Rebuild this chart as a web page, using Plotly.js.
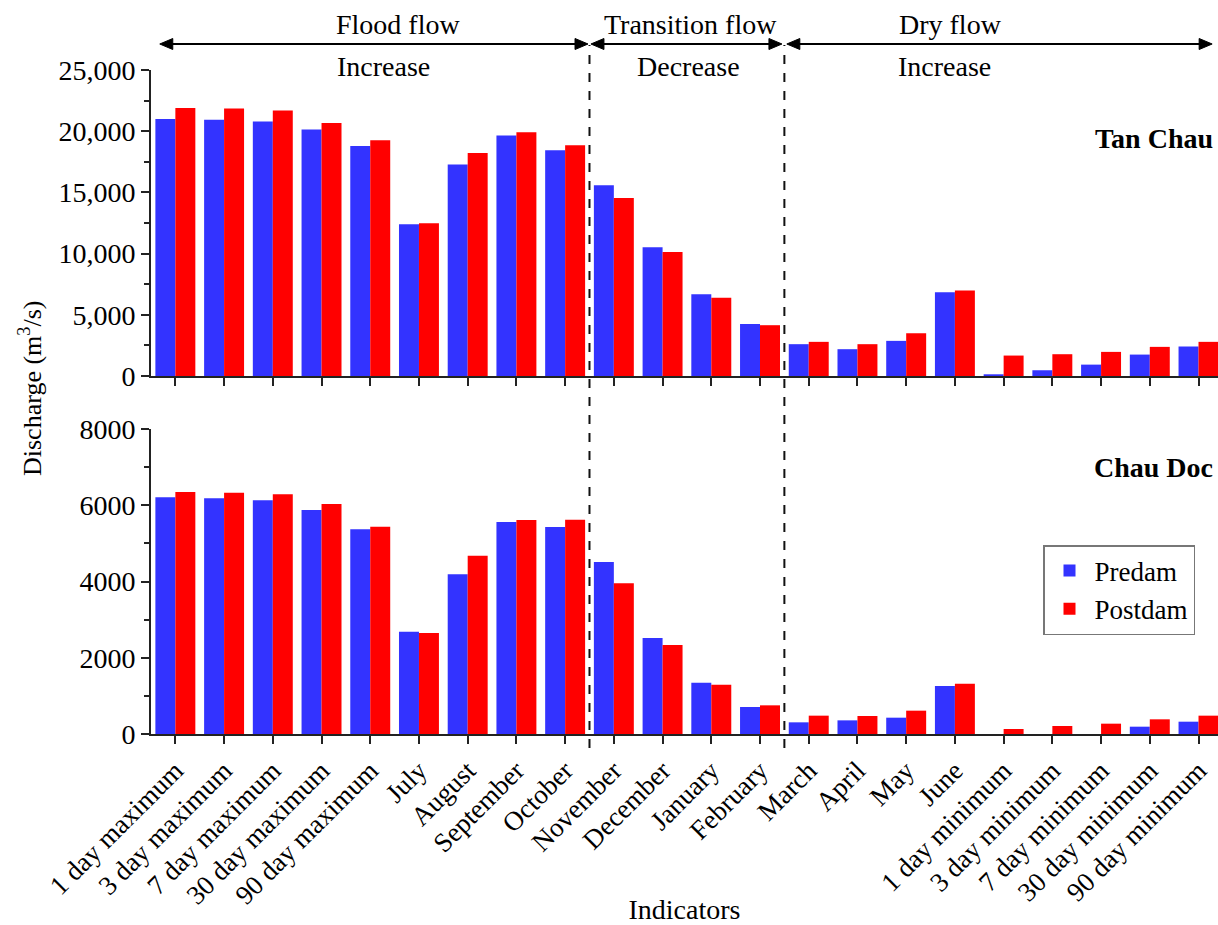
<!DOCTYPE html>
<html>
<head>
<meta charset="utf-8">
<script src="https://cdn.plot.ly/plotly-3.0.1.min.js"></script>
<style>html,body{margin:0;padding:0;background:#fff;}#chart{width:1218px;height:925px;}</style>
</head>
<body>
<div id="chart"></div>
<script>
const categories = ["1 day maximum","3 day maximum","7 day maximum","30 day maximum","90 day maximum","July","August","September","October","November","December","January","February","March","April","May","June","1 day minimum","3 day minimum","7 day minimum","30 day minimum","90 day minimum"];
const tanChauPredam  = [21000,20930,20790,20140,18800,12400,17270,19640,18440,15580,10520,6670,4240,2600,2190,2870,6840,140,470,930,1750,2410];
const tanChauPostdam = [21900,21860,21690,20680,19260,12480,18220,19920,18850,14540,10140,6390,4150,2790,2600,3500,6980,1670,1780,1970,2380,2790];
const chauDocPredam  = [6208,6181,6129,5875,5368,2684,4188,5561,5429,4511,2518,1346,708,306,358,428,1259,0,0,0,192,323];
const chauDocPostdam = [6347,6330,6286,6033,5438,2649,4678,5613,5622,3952,2334,1294,752,481,472,612,1320,131,210,271,385,481];
const seriesNames = ["Predam","Postdam"];
const stations = ["Tan Chau","Chau Doc"];
const periods = ["Flood flow","Transition flow","Dry flow"];
const trends = ["Increase","Decrease","Increase"];

const BLUE = "#3333FF", RED = "#FF0000";
const FONT = "Liberation Serif, Times New Roman, serif";

const traces = [
  {type:"bar", x:categories, y:tanChauPredam, name:seriesNames[0], xaxis:"x2", yaxis:"y2", marker:{color:BLUE}, showlegend:false},
  {type:"bar", x:categories, y:tanChauPostdam, name:seriesNames[1], xaxis:"x2", yaxis:"y2", marker:{color:RED}, showlegend:false},
  {type:"bar", x:categories, y:chauDocPredam, name:seriesNames[0], xaxis:"x", yaxis:"y", marker:{color:BLUE}},
  {type:"bar", x:categories, y:chauDocPostdam, name:seriesNames[1], xaxis:"x", yaxis:"y", marker:{color:RED}}
];

const axLine = {showline:true, linecolor:"#222", linewidth:2, ticks:"outside", ticklen:8, tickwidth:2, tickcolor:"#222", showgrid:false, zeroline:false};

// layout geometry
const top0 = 70, bot0 = 734, H = 925, L = 151, W = 1067;
function py(pix){ return (bot0 - pix)/(bot0 - top0); }
function px(pix){ return (pix - L)/W; }
const catPx = W/21.9; // pixels per category

const layout = {
  width:1218, height:925,
  margin:{l:L, r:0, t:top0, b:H-bot0},
  paper_bgcolor:"#fff", plot_bgcolor:"#fff",
  font:{family:FONT, size:26, color:"#000"},
  barmode:"group", bargap:0.18, bargroupgap:0,
  showlegend:true,
  legend:{x:px(1043), y:py(545), xanchor:"left", yanchor:"top", bgcolor:"#fff", bordercolor:"#777", borderwidth:1.5, font:{size:27, family:FONT}, tracegroupgap:0, itemwidth:40},
  xaxis:Object.assign({}, axLine, {anchor:"y", domain:[0,1], range:[-0.5,21.4], tickangle:-45, tickfont:{size:27, family:FONT},
    title:{text:"Indicators", font:{size:28, family:FONT}, standoff:6}}),
  xaxis2:Object.assign({}, axLine, {anchor:"y2", domain:[0,1], matches:"x", showticklabels:false}),
  yaxis:Object.assign({}, axLine, {anchor:"x", domain:[0, py(429)], range:[0,8000], dtick:2000, tickfont:{size:28, family:FONT},
    minor:{ticks:"outside", ticklen:5, tickwidth:2, tickcolor:"#222", dtick:1000}}),
  yaxis2:Object.assign({}, axLine, {anchor:"x2", domain:[py(376), 1], range:[0,25000], dtick:5000, tickformat:",d", tickfont:{size:28, family:FONT},
    minor:{ticks:"outside", ticklen:5, tickwidth:2, tickcolor:"#222", dtick:2500}}),
  shapes:[],
  annotations:[]
};

// dashed separators
[8.5, 12.5].forEach(v => layout.shapes.push({type:"line", xref:"x", yref:"paper", x0:v, x1:v, y0:py(748), y1:py(45), line:{color:"#111", width:2, dash:"dash"}}));

// period arrows (line + two triangular heads)
const arrowSpans = [[-0.32, 8.47],[8.53, 12.45],[12.55, 21.28]];
const ay = py(44), hl = 13/catPx, hh = 5.5/(bot0-top0);
arrowSpans.forEach(s => {
  layout.shapes.push({type:"line", xref:"x", yref:"paper", x0:s[0]+hl*0.5, x1:s[1]-hl*0.5, y0:ay, y1:ay, line:{color:"#000", width:2.2}});
  layout.shapes.push({type:"path", xref:"x", yref:"paper", path:`M ${s[0]} ${ay} L ${s[0]+hl} ${ay+hh} L ${s[0]+hl} ${ay-hh} Z`, fillcolor:"#000", line:{color:"#000", width:1}});
  layout.shapes.push({type:"path", xref:"x", yref:"paper", path:`M ${s[1]} ${ay} L ${s[1]-hl} ${ay+hh} L ${s[1]-hl} ${ay-hh} Z`, fillcolor:"#000", line:{color:"#000", width:1}});
});
// period labels and trends
const labelX = [398, 690, 950];
const trendX = [383, 688, 944];
periods.forEach((p,i) => {
  layout.annotations.push({xref:"paper", yref:"paper", x:px(labelX[i]), y:py(24), text:p, showarrow:false, font:{size:28, family:FONT}, xanchor:"center", yanchor:"middle"});
  layout.annotations.push({xref:"paper", yref:"paper", x:px(trendX[i]), y:py(67), text:trends[i], showarrow:false, font:{size:28, family:FONT}, xanchor:"center", yanchor:"middle"});
});
// station labels
layout.annotations.push({xref:"paper", yref:"paper", x:px(1215), y:py(139), text:"<b>"+stations[0]+"</b>", showarrow:false, font:{size:28, family:FONT}, xanchor:"right", yanchor:"middle"});
layout.annotations.push({xref:"paper", yref:"paper", x:px(1215), y:py(467), text:"<b>"+stations[1]+"</b>", showarrow:false, font:{size:28, family:FONT}, xanchor:"right", yanchor:"middle"});
// y title
layout.annotations.push({xref:"paper", yref:"paper", x:px(30), y:py(389), text:"Discharge (m<sup>3</sup>/s)", textangle:-90, showarrow:false, font:{size:26, family:FONT}, xanchor:"center", yanchor:"middle"});

Plotly.newPlot("chart", traces, layout, {displayModeBar:false, staticPlot:true});
</script>
</body>
</html>
